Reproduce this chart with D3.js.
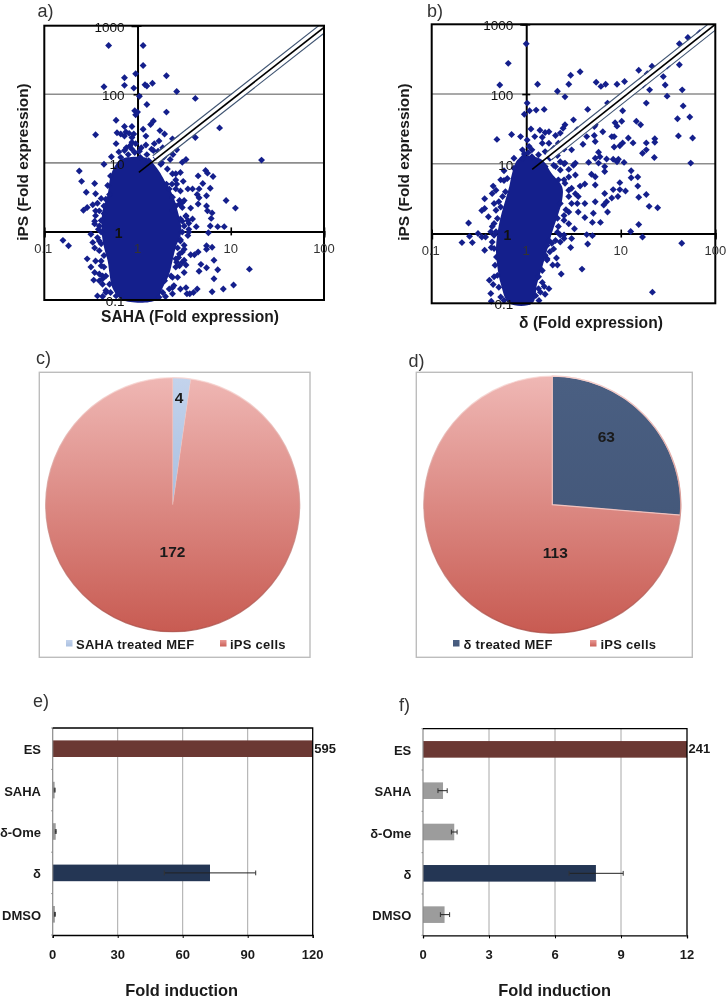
<!DOCTYPE html>
<html><head><meta charset="utf-8">
<script src="https://cdn.jsdelivr.net/npm/d3@7/dist/d3.min.js"></script>
<style>html,body{margin:0;padding:0;background:#fff}svg{display:block;filter:blur(.35px)}text{font-family:"Liberation Sans",Arial,sans-serif}</style>
</head><body><svg id="c" width="726" height="1000"></svg>
<script>
// Values, stored as [log10 x fold, log10 y fold]
const pointsA=[[-.31,2.71],[.06,2.71],[.06,2.42],[-.02,2.30],[-.14,2.24],[.31,2.27],[-.36,2.11],[-.14,2.13],[-.04,2.09],[.08,2.14],[.10,2.12],[.16,2.16],[.42,2.04],[.62,1.94],[.02,1.97],[.10,1.85],[-.03,1.76],[0,1.74],[-.02,1.70],[.31,1.74],[-.23,1.62],[.17,1.61],[.14,1.56],[-.14,1.53],[-.06,1.53],[.06,1.49],[.24,1.47],[.88,1.51],[-.45,1.41],[-.22,1.44],[-.18,1.42],[-.125,1.45],[-.09,1.43],[-.04,1.42],[-.14,1.39],[-.06,1.37],[.09,1.39],[.29,1.42],[.375,1.35],[.44,1.36],[.52,1.37],[.62,1.37],[-.23,1.28],[-.06,1.30],[.09,1.26],[.23,1.32],[.27,1.22],[.42,1.19],[-.28,1.09],[-.14,1.18],[-.06,1.20],[1.33,1.04],[.52,1.05],[.48,1.01],[-.36,.98],[-.1,1.12],[-.03,1.15],[.04,1.22],[.1,1.12],[.17,1.18],[.2,1.08],[.3,1.12],[.35,1.05],[-.18,1.08],[.03,1.08],[-.08,1.25],[.12,1.03],[.26,1.0],[-.02,1.28],[.02,1.17],[-.12,1.22],[.15,1.2],[.22,1.17],[-.2,1.16],[.18,1.28],[.28,1.08],[.38,1.12],
[-.625,.88],[-.60,.73],[-.46,.70],[-.55,.57],[-.45,.55],[-.39,.48],[-.43,.41],[-.48,.39],[-.54,.35],[-.58,.31],[-.45,.30],[-.36,.26],[-.46,.11],[-.42,.03],[-.5,-.04],[-.48,-.16],[-.41,-.14],[-.80,-.13],[-.74,-.21],[-.46,-.24],[-.54,-.40],[-.45,-.43],[-.39,-.50],[-.50,-.52],[-.46,-.60],[-.41,-.62],[-.47,-.71],[-.375,-.65],[-.41,-.72],[-.34,-.86],[-.43,-.94],[-.375,-.95],[-.34,-.89],[-.375,-.77],
[-.29,.81],[-.32,.67],[-.30,.54],[-.34,.47],[-.36,.37],[-.41,.30],[-.45,.23],[-.46,.15],[-.39,.16],[-.41,.08],[-.39,-.01],[-.43,-.09],[-.39,-.18],[-.41,-.28],[-.36,-.35],[-.39,-.43],[-.36,-.52],[-.34,-.65],[-.375,-.69],[-.30,-.77],[-.29,-.89],[-.23,-.94],
[.65,.81],[.73,.89],[.75,.85],[.81,.80],[.46,.86],[.41,.75],[.31,.69],[.37,.69],[.42,.69],[.49,.73],[.70,.70],[.78,.63],[.54,.62],[.59,.62],[.66,.62],[.46,.59],[.64,.54],[.74,.52],[.66,.49],[.95,.45],[1.05,.34],[.65,.40],[.74,.37],[.75,.30],[.80,.27],[.57,.34],[.48,.35],[.79,.19],[.59,.18],[.63,.07],[.78,.08],[.86,.07],[.93,.07],[.55,.03],[.76,-.02],[.54,-.06],[.74,-.21],[.74,-.26],[.80,-.23],[.65,-.30],[.57,-.34],[.61,-.34],[.82,-.42],[.68,-.48],[1.20,-.55],[.74,-.53],[.86,-.56],[.52,-.49],[.45,-.50],[.66,-.58],[.50,-.60],[.82,-.69],[.43,-.67],[.375,-.67],[1.03,-.78],[.92,-.84],[.80,-.88],[.64,-.84],[.60,-.89],[.52,-.82],[.56,-.91],[.53,-.91],[.46,-.84],[.375,-.82],[.375,-.91],[.30,-.95],
[.5,.45],[.45,.4],[.52,.22],[.48,.15],[.55,.12],[.46,-.12],[.5,-.2],[.48,-.3],[.44,-.38],[.42,-.45],[.5,-.42],
[.32,.91],[.25,.98],[.375,.84],[.41,.84],[.34,.62],[.41,.62],[.375,.50],[.45,.45],[.48,.42],[.41,.37],[.375,.30],[.52,.23],[.46,.18],[.54,.16],[.5,.08],[.48,-.01],[.55,-.01],[.46,-.14],[.43,-.24],[.5,-.26],[.45,-.33],[.41,-.40],[.48,-.45],[.41,-.52],[.36,-.65],[.29,-.72],[.34,-.84],[.27,-.89],[.23,-.96],[.39,-.79]];
const clusterA=[[-.11,1.08],[-.2,1.03],[-.27,.88],[-.30,.74],[-.32,.54],[-.375,.30],[-.385,0],[-.36,-.23],[-.32,-.43],[-.30,-.62],[-.27,-.82],[-.16,-1],[.20,-1],[.27,-.82],[.34,-.62],[.375,-.43],[.41,-.23],[.47,0],[.43,.30],[.375,.54],[.29,.74],[.23,.88],[.14,1.03],[.07,1.08]];
const pointsB=[[0,2.72],[-.19,2.44],[-.28,2.13],[.12,2.14],[.47,2.27],[.57,2.32],[.45,2.14],[.33,2.04],[.41,1.96],[.74,2.17],[.79,2.11],[.84,2.14],[.96,2.14],[1.04,2.18],[1.19,2.34],[1.33,2.40],[1.28,2.29],[1.22,2.19],[1.235,2.13],[1.305,2.06],[1.49,2.40],[1.45,2.25],[1.47,2.13],[1.49,1.97],[1.62,2.72],[1.71,2.81],[1.835,2.88],[1.62,2.59],[1.62,2.42],[1.65,2.06],[1.66,1.83],[1.73,1.67],[1.60,1.645],[1.61,1.40],[1.76,1.37],[1.27,1.87],[1.02,1.76],[.86,1.87],[.84,1.78],[.65,1.78],[.50,1.63],[.01,1.87],[-.02,1.71],[.035,1.76],[.105,1.77],[.19,1.78],[.41,1.56],[.39,1.51],[.73,1.56],[.94,1.59],[.96,1.54],[1.01,1.61],[1.165,1.61],[1.21,1.56],[.72,1.535],[.81,1.46],[.54,1.49],[.58,1.46],[.05,1.50],[.145,1.48],[.20,1.45],[.24,1.46],[-.155,1.42],[-.06,1.39],[-.31,1.35],[.01,1.34],[.09,1.39],[.17,1.38],[.31,1.405],[.36,1.44],[.46,1.37],[.64,1.39],[.72,1.405],[.905,1.39],[.93,1.39],[1.08,1.37],[1.36,1.36],[1.27,1.30],[1.36,1.31],[1.13,1.30],[1.02,1.30],[.99,1.26],[.93,1.24],[1.23,1.15],[1.27,1.20],[1.355,1.09],[.73,1.32],[.60,1.28],[.48,1.20],[.765,1.165],[.73,1.08],[.78,1.10],[.85,1.07],[.92,1.065],[.975,1.065],[1.035,1.02],[.66,1.02],[.52,1.01],[.41,1.01],[.29,1.22],[.20,1.175],[.13,1.13],[-.04,1.20],[-.13,1.08],[.06,1.20],[.03,1.25],[.17,1.295],[.24,1.295],[.34,1.295],[.40,1.21],[.465,1.34],[-.04,1.08],[.06,1.10],[.13,1.02],[-.02,1.14],[.02,1.16],[.25,1.08],[.33,1.12],
[1.74,1.01],[1.11,.90],[1.18,.81],[1.11,.80],[1.18,.68],[.99,.73],[.92,.63],[.99,.63],[1.05,.61],[1.27,.56],[1.19,.52],[.97,.53],[.905,.51],[1.30,.39],[1.39,.37],[1.19,.13],[1.105,.03],[1.23,-.05],[1.645,-.14],[1.335,-.84],[.59,-.51],[.37,-.58],[.33,-.45],[.28,-.45],[.32,-.35],[.22,-.36],[.47,-.20],[.65,-.15],[.64,-.015],[.70,-.03],[.51,.07],[.785,.16],[.70,.16],[.62,.23],[.86,.31],[.71,.29],[.55,.31],[.45,.31],[.82,.41],[.85,.455],[.73,.455],[.62,.43],[.54,.43],[.83,.575],[.73,.695],[.62,.71],[.57,.68],[.69,.85],[.73,.815],[.83,.89],[.52,.84],[.50,.98],[.83,.96],[.96,1.03],[.765,1.01],
[-.235,.90],[-.27,.77],[-.235,.76],[-.35,.68],[-.32,.62],[-.36,.575],[-.44,.50],[-.34,.43],[-.44,.36],[-.47,.33],[-.27,.38],[-.40,.24],[-.61,.15],[-.36,.10],[-.51,0],[-.60,-.04],[-.47,-.05],[-.43,-.05],[-.68,-.13],[-.57,-.13],[-.44,-.24],[-.37,-.20],[-.34,-.025],[-.39,-.67],[-.34,-.62],[-.35,-.73],[-.375,-.86],[-.37,-.97],[.24,-.79],[.19,-.76],[.20,-.87],[.15,-.84],[.135,-.96],
[-.13,.935],[-.2,.79],[-.22,.6],[-.29,.455],[-.25,.53],[-.32,.335],[-.305,.215],[-.34,.145],[-.32,.025],[-.375,.025],[-.36,-.12],[-.34,-.215],[-.315,-.335],[-.33,-.455],[-.305,-.6],[-.29,-.77],[-.27,-.91],[-.235,-.96],
[.34,.10],[.40,.19],[.45,.14],[.31,-.10],[.36,-.02],[.27,-.14],[.25,-.26],[.40,-.07],[.48,-.07],[.42,.34],[.48,.43],[.45,.53],[.52,.57],[.48,.65],[.55,.53],[.41,.72],[.45,.81],[.36,.91],[.40,1.0],[.29,.98],[.45,.92],[.34,.77],
[.31,.96],[.36,1.03],[.2,.96],[.40,.77],[.45,.62],[.36,.43],[.40,.26],[.33,.22],[.33,.02],[.40,-.02],[.36,-.12],[.24,-.1],[.29,-.22],[.22,-.17],[.2,-.31],[.22,-.38],[.17,-.53],[.13,-.62],[.17,-.7],[.13,-.79],[.1,-.89]];
const clusterB=[[-.025,1.11],[-.095,1.055],[-.15,.86],[-.18,.67],[-.22,.48],[-.27,.24],[-.305,0],[-.32,-.24],[-.305,-.48],[-.27,-.72],[-.18,-1],[.065,-1],[.115,-.72],[.17,-.48],[.22,-.24],[.27,0],[.33,.24],[.38,.48],[.38,.67],[.27,.86],[.17,1.055],[.06,1.11]];
const diagonalA=[[.014,.86],[2,2.975]];
const diagonalB=[[.063,.92],[2,3]];
const scatterTicksX=[0.1,1,10,100];
const scatterTicksY=[0.1,1,10,100,1000];
const gridValues=[10,100];
const pieC={values:[8.2,351.8],labels:["4","172"],names:["SAHA treated MEF","iPS cells"]};
const pieD={values:[94.6,265.4],labels:["63","113"],names:["δ treated MEF","iPS cells"]};
const barCats=["ES","SAHA","δ-Ome","δ","DMSO"];
const barE=[595,0.9,1.4,72.6,1.0];
const barELow=[null,0.7,1.2,51.5,0.8];
const barEHigh=[null,1.1,1.6,93.7,1.2];
const barF=[241,0.91,1.42,7.86,0.98];
const barFLow=[null,0.68,1.29,6.64,0.79];
const barFHigh=[null,1.1,1.55,9.1,1.21];

const svg=d3.select("#c"),defs=svg.append("defs");
const INK="#1a1a1a",DOT="#141f8c";
function txt(g,x,y,s,o={}){const t=g.append("text").attr("x",x).attr("y",y).text(s)
 .attr("font-size",o.size||13).attr("font-weight",o.weight||"bold").attr("fill",o.fill||INK)
 .attr("text-anchor",o.anchor||"middle").attr("dominant-baseline",o.base||"central");
 if(o.spacing)t.attr("letter-spacing",o.spacing);return t;}
[["a)",37.5,17],["b)",427,17],["c)",36,364],["d)",408.5,366.5],["e)",33,707],["f)",399,710.5]].forEach(d=>
 txt(svg,d[1],d[2],d[0],{size:18,weight:"normal",anchor:"start",base:"auto",fill:"#333"}));

function scatter(o){
 const g=svg.append("g");
 const x=d3.scaleLog().domain([.1,100]).range([o.l,o.r]);
 const y=d3.scaleLog().domain([.1,1000]).range([o.b,o.t]);
 g.selectAll("line.g").data(gridValues).join("line").attr("x1",o.l).attr("x2",o.r)
  .attr("y1",d=>y(d)).attr("y2",d=>y(d)).attr("stroke","#8d8d8d").attr("stroke-width",1.6);
 const ax=g.append("g").attr("transform",`translate(0,${y(1)})`).call(d3.axisBottom(x).tickValues(scatterTicksX).tickFormat(String));
 const ay=g.append("g").attr("transform",`translate(${x(1)},0)`).call(d3.axisLeft(y).tickValues(scatterTicksY).tickFormat(String));
 [ax,ay].forEach(a=>{a.select(".domain").attr("stroke","#000").attr("stroke-width",2);a.selectAll("text").remove();});
 ax.selectAll("line").attr("y1",-4).attr("y2",4).attr("stroke","#000").attr("stroke-width",1.6);
 ay.selectAll("line").attr("x1",-4).attr("x2",4).attr("stroke","#000").attr("stroke-width",1.6);
 const P=p=>[x(10**p[0]),y(10**p[1])];
 g.append("path").attr("d",d3.line().curve(d3.curveCatmullRomClosed)(o.cluster.map(P))).attr("fill",DOT);
 const sym=d3.symbol().type(d3.symbolSquare).size(24)();
 g.selectAll("path.p").data(o.points).join("path").attr("class","p").attr("d",sym)
  .attr("transform",d=>`translate(${P(d)}) rotate(45)`).attr("fill",DOT);
 const [s,e]=o.diagonal.map(P);const dx=e[0]-s[0],dy=e[1]-s[1],L=Math.hypot(dx,dy),nx=-dy/L*4.6,ny=dx/L*4.6,st=.09;
 const sx=s[0]+dx*st,sy=s[1]+dy*st;
 const dg=g.append("g");
 dg.append("path").attr("d",`M${sx},${sy}L${e[0]},${e[1]}`).attr("stroke","#fff").attr("stroke-width",8);
 [1,-1].forEach(k=>dg.append("line").attr("x1",sx+nx*k).attr("y1",sy+ny*k).attr("x2",e[0]+nx*k).attr("y2",e[1]+ny*k).attr("stroke","#3d5270").attr("stroke-width",1.1));
 dg.append("line").attr("x1",s[0]).attr("y1",s[1]).attr("x2",e[0]).attr("y2",e[1]).attr("stroke","#000").attr("stroke-width",1.6);
 const clip="cl"+o.id;defs.append("clipPath").attr("id",clip).append("rect").attr("x",o.l).attr("y",o.t).attr("width",o.r-o.l).attr("height",o.b-o.t);
 dg.attr("clip-path",`url(#${clip})`);
 g.append("rect").attr("x",o.l).attr("y",o.t).attr("width",o.r-o.l).attr("height",o.b-o.t).attr("fill","none").attr("stroke","#000").attr("stroke-width",2);
 scatterTicksY.forEach(v=>{const big=v==1;txt(g,x(1)-(big?15:13),y(v)+1.5,v,{anchor:"end",size:big?14:13.5,weight:big?"bold":"normal",fill:"#111"});});
 scatterTicksX.forEach(v=>txt(g,x(v)+(v==.1?-1:0),y(1)+17,v,{size:13,weight:"normal",fill:"#333"}));
 txt(g,o.tx,o.ty,o.title,{size:15.6});
 txt(g,o.yx,162,"iPS (Fold expression)",{size:15.4}).attr("transform",`rotate(-90 ${o.yx} 162)`);
}
scatter({id:"a",l:44.3,r:324,t:25.7,b:300,points:pointsA,cluster:clusterA,diagonal:diagonalA,tx:190,ty:316.5,title:"SAHA (Fold expression)",yx:22});
scatter({id:"b",l:431.7,r:715.3,t:24.3,b:303.3,points:pointsB,cluster:clusterB,diagonal:diagonalB,tx:591,ty:322.5,title:"δ (Fold expression)",yx:403});

function grad(id,a,b,y1,y2){const g=defs.append("linearGradient").attr("id",id).attr("gradientUnits","userSpaceOnUse").attr("x1",0).attr("x2",0).attr("y1",y1).attr("y2",y2);
 g.append("stop").attr("offset",0).attr("stop-color",a);g.append("stop").attr("offset",1).attr("stop-color",b);}
grad("pk","#efb7b4","#c85b52",-127,127);grad("lb","#c3d3ec","#a9bfe0",-127,0);grad("nv","#4a5f82","#44587a",-127,20);
grad("rim","#f8d6d3","#a94c45",-127,127);
function pie(o){
 const g=svg.append("g");
 g.append("rect").attr("x",o.fx).attr("y",372.3).attr("width",o.fw).attr("height",285).attr("fill","#fff").attr("stroke","#bdbdbd").attr("stroke-width",1.4);
 const arcs=d3.pie().sort(null)(o.d.values),arc=d3.arc().innerRadius(0).outerRadius(o.r);
 const pg=g.append("g").attr("transform",`translate(${o.cx},504.7)`);
 pg.selectAll("path").data(arcs).join("path").attr("d",arc).attr("fill",(d,i)=>`url(#${o.fills[i]})`);
 pg.append("path").attr("d",arc(arcs[0])).attr("fill","none").attr("stroke","#f0c2be").attr("stroke-width",o.edge);
 pg.append("circle").attr("r",o.r).attr("fill","none").attr("stroke","url(#rim)").attr("stroke-width",1.3).attr("opacity",.75);
 o.labs.forEach((p,i)=>txt(g,p[0],p[1],o.d.labels[i],{size:15.5}));
 o.leg.forEach((p,i)=>{g.append("rect").attr("x",p[0]).attr("y",640).attr("width",6.5).attr("height",6.5).attr("fill",`url(#${o.swatch[i]})`);
  txt(g,p[1],644,o.d.names[i],{size:13,anchor:"start",spacing:.25});});
}
grad("s1","#c3d3ec","#a9bfe0",640,647);grad("s2","#e99a96","#c85b52",640,647);grad("s3","#4a5f82","#44587a",640,647);
pie({d:pieC,fx:39.3,fw:270.7,cx:172.7,r:127,edge:.4,fills:["lb","pk"],labs:[[179,397],[172.5,551]],leg:[[66,76],[220,230]],swatch:["s1","s2"]});
pie({d:pieD,fx:416.3,fw:276,cx:552.3,r:128.5,edge:1.2,fills:["nv","pk"],labs:[[606.3,436],[555.3,552]],leg:[[453,463.5],[590,600.5]],swatch:["s3","s2"]});

function bars(o){
 const g=svg.append("g");
 const x=d3.scaleLinear().domain([0,o.max]).range([o.l,o.r]).clamp(true);
 const band=d3.scaleBand().domain(barCats).range([o.t,o.b]);
 g.selectAll("line.gr").data(o.ticks.slice(1,-1)).join("line").attr("x1",d=>x(d)).attr("x2",d=>x(d)).attr("y1",o.t).attr("y2",o.b).attr("stroke","#a8a8a8").attr("stroke-width",1);
 const cy=c=>band(c)+band.bandwidth()/2,bh=16.6;
 const col=i=>i==0?"#6b3833":i==3?"#243654":"#9c9c9c";
 g.selectAll("rect.bar").data(o.vals).join("rect").attr("x",o.l).attr("y",(d,i)=>cy(barCats[i])-bh/2).attr("width",d=>x(d)-o.l).attr("height",bh).attr("fill",(d,i)=>col(i));
 o.vals.forEach((d,i)=>{if(o.low[i]==null)return;const Y=cy(barCats[i]);
  g.append("line").attr("x1",x(o.low[i])).attr("x2",x(o.high[i])).attr("y1",Y).attr("y2",Y).attr("stroke","#222").attr("stroke-width",1);
  [o.low[i],o.high[i]].forEach(v=>g.append("line").attr("x1",x(v)).attr("x2",x(v)).attr("y1",Y-2.4).attr("y2",Y+2.4).attr("stroke","#333").attr("stroke-width",1));});
 const bx=g.append("g").attr("transform",`translate(0,${o.b})`).call(d3.axisBottom(x).tickValues(o.ticks).tickSize(3).tickFormat(String));
 bx.select(".domain").attr("stroke","#000").attr("stroke-width",1.3);bx.selectAll("line").attr("stroke","#000");bx.selectAll("text").remove();
 const by=g.append("g").attr("transform",`translate(${o.l},0)`);
 by.append("line").attr("y1",o.t).attr("y2",o.b).attr("stroke","#8a8a8a").attr("stroke-width",1.2);
 barCats.concat("").forEach((c,i)=>by.append("line").attr("x1",-1.5).attr("x2",0).attr("y1",o.t+i*(o.b-o.t)/5).attr("y2",o.t+i*(o.b-o.t)/5).attr("stroke","#8a8a8a"));
 g.append("path").attr("d",`M${o.l},${o.t}H${o.r}V${o.b}`).attr("fill","none").attr("stroke","#000").attr("stroke-width",1.3);
 barCats.forEach(c=>txt(g,o.catx,cy(c)+1,c,{anchor:"end",size:13}));
 o.ticks.forEach(v=>txt(g,x(v),954.5,v,{size:13}));
 txt(g,o.r+1.5,o.t+20,o.vals[0],{anchor:"start",size:13});
 txt(g,o.tx,o.ty,"Fold induction",{size:16.4});
}
bars({l:52.7,r:312.7,t:728,b:935,max:120,ticks:[0,30,60,90,120],vals:barE,low:barELow,high:barEHigh,catx:41,tx:181.7,ty:989.5});
bars({l:423,r:687,t:728.7,b:935.3,max:12,ticks:[0,3,6,9,12],vals:barF,low:barFLow,high:barFHigh,catx:411.3,tx:554.7,ty:990});
</script></body></html>
